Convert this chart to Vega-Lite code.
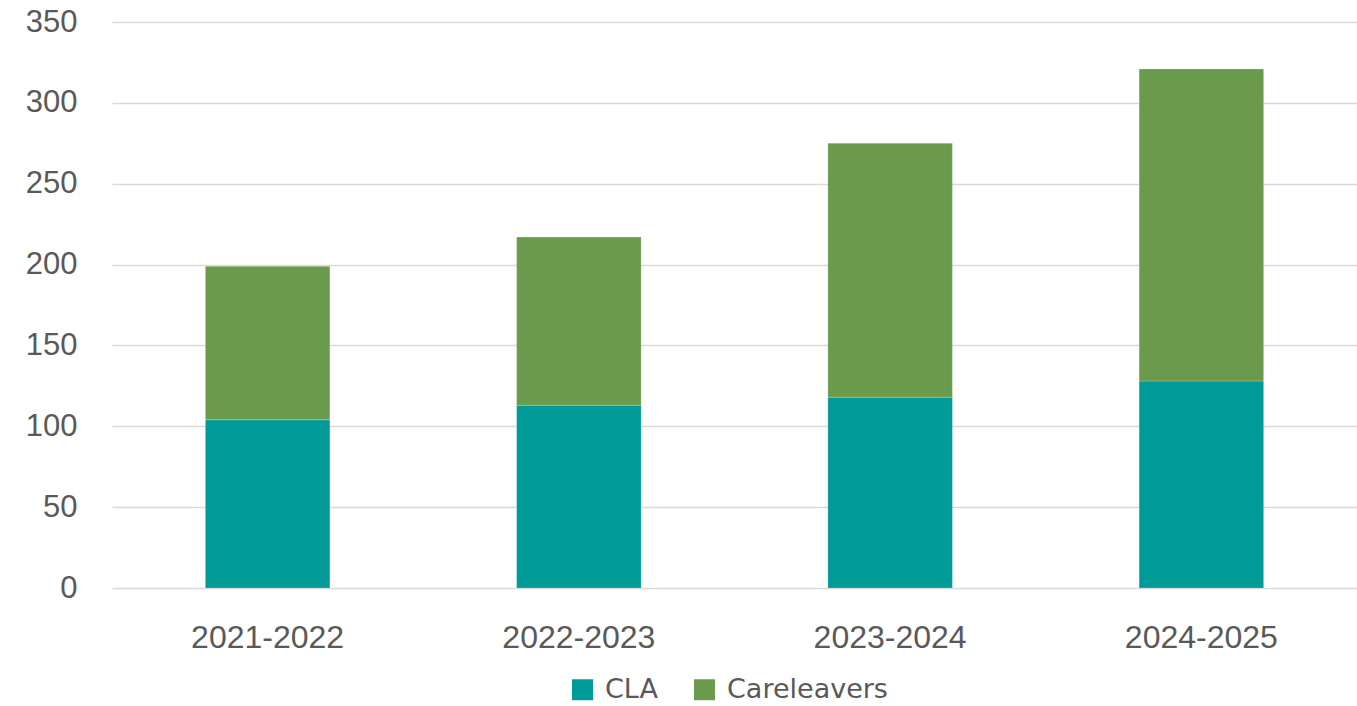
{
  "$schema": "https://vega.github.io/schema/vega-lite/v6.json",
  "width": 1245,
  "height": 566,
  "autosize": {"type": "none"},
  "padding": {"left": 112, "top": 22, "right": 0, "bottom": 118},
  "background": "white",
  "data": {
    "values": [
      {"year": "2021-2022", "group": "CLA", "value": 104, "order": 1},
      {"year": "2021-2022", "group": "Careleavers", "value": 95, "order": 2},
      {"year": "2022-2023", "group": "CLA", "value": 113, "order": 1},
      {"year": "2022-2023", "group": "Careleavers", "value": 104, "order": 2},
      {"year": "2023-2024", "group": "CLA", "value": 118, "order": 1},
      {"year": "2023-2024", "group": "Careleavers", "value": 157, "order": 2},
      {"year": "2024-2025", "group": "CLA", "value": 128, "order": 1},
      {"year": "2024-2025", "group": "Careleavers", "value": 193, "order": 2}
    ]
  },
  "config": {
    "view": {"stroke": null},
    "font": "Liberation Sans"
  },
  "mark": {"type": "bar", "stroke": "white", "strokeWidth": 0.5, "strokeOpacity": 0.4},
  "encoding": {
    "x": {
      "field": "year",
      "type": "nominal",
      "sort": null,
      "scale": {"paddingInner": 0.6, "paddingOuter": 0.3},
      "axis": {
        "title": null,
        "labelAngle": 0,
        "labelFontSize": 32,
        "labelColor": "#595959",
        "labelPadding": 34,
        "labelBaseline": "top",
        "ticks": false,
        "tickSize": 0,
        "domain": false,
        "grid": false
      }
    },
    "y": {
      "field": "value",
      "type": "quantitative",
      "stack": "zero",
      "scale": {"domain": [0, 350], "nice": false},
      "axis": {
        "title": null,
        "values": [0, 50, 100, 150, 200, 250, 300, 350],
        "labelFontSize": 31,
        "labelColor": "#595959",
        "labelPadding": 35,
        "ticks": false,
        "tickSize": 0,
        "domain": false,
        "grid": true,
        "gridColor": "#D9D9D9",
        "gridWidth": 1.5
      }
    },
    "color": {
      "field": "group",
      "type": "nominal",
      "sort": ["CLA", "Careleavers"],
      "scale": {"domain": ["CLA", "Careleavers"], "range": ["#009A97", "#6A9B4C"]},
      "legend": {
        "title": null,
        "orient": "none",
        "legendX": 457,
        "legendY": 654,
        "direction": "horizontal",
        "symbolType": "square",
        "symbolSize": 441,
        "symbolStrokeWidth": 0,
        "labelFont": "DejaVu Sans",
        "labelFontSize": 27,
        "labelLimit": 400,
        "labelColor": "#595959",
        "labelOffset": 9,
        "columnPadding": 33
      }
    },
    "order": {"field": "order", "type": "quantitative"}
  }
}
